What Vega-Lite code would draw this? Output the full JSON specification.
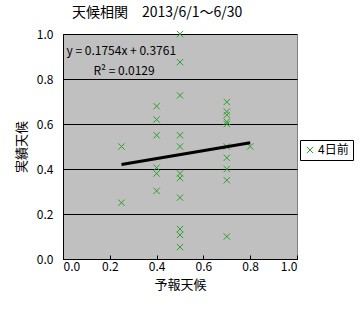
{
  "$schema": "https://vega.github.io/schema/vega-lite/v6.json",
  "width": 234,
  "height": 225,
  "autosize": {"type": "none"},
  "padding": {"left": 63, "top": 34, "right": 66, "bottom": 51},
  "background": "white",
  "title": {
    "text": "天候相関　2013/6/1〜6/30",
    "anchor": "start",
    "frame": "group",
    "dx": 9,
    "offset": 8,
    "font": "Noto Sans CJK JP",
    "fontSize": 14,
    "fontWeight": "normal",
    "color": "black"
  },
  "config": {
    "view": {"fill": "#c0c0c0", "stroke": "#808080", "strokeWidth": 1},
    "font": "Noto Sans CJK JP"
  },
  "datasets": {
    "pts": [
      {"x": 0.5, "y": 1.0}, {"x": 0.5, "y": 0.875}, {"x": 0.5, "y": 0.727}, {"x": 0.5, "y": 0.55},
      {"x": 0.5, "y": 0.5}, {"x": 0.5, "y": 0.38}, {"x": 0.5, "y": 0.36}, {"x": 0.5, "y": 0.273},
      {"x": 0.5, "y": 0.133}, {"x": 0.5, "y": 0.107}, {"x": 0.5, "y": 0.053},
      {"x": 0.4, "y": 0.679}, {"x": 0.4, "y": 0.62}, {"x": 0.4, "y": 0.55}, {"x": 0.4, "y": 0.406},
      {"x": 0.4, "y": 0.38}, {"x": 0.4, "y": 0.303},
      {"x": 0.7, "y": 0.698}, {"x": 0.7, "y": 0.655}, {"x": 0.7, "y": 0.64}, {"x": 0.7, "y": 0.61},
      {"x": 0.7, "y": 0.6}, {"x": 0.7, "y": 0.5}, {"x": 0.7, "y": 0.45}, {"x": 0.7, "y": 0.4},
      {"x": 0.7, "y": 0.35}, {"x": 0.7, "y": 0.1},
      {"x": 0.25, "y": 0.5}, {"x": 0.25, "y": 0.25},
      {"x": 0.8, "y": 0.5}
    ],
    "trend": [{"x": 0.25, "y": 0.4200}, {"x": 0.8, "y": 0.5164}],
    "labels": [
      {"x": 0.015, "y": 0.925, "t": "y = 0.1754x + 0.3761"},
      {"x": 0.13, "y": 0.835, "t": "R² = 0.0129"}
    ]
  },
  "layer": [
    {
      "data": {"name": "pts"},
      "mark": {"type": "point", "shape": "M-1,-1L1,1M1,-1L-1,1", "filled": false, "strokeWidth": 1, "size": 40, "clip": false, "opacity": 1},
      "encoding": {
        "x": {
          "field": "x", "type": "quantitative",
          "scale": {"domain": [0, 1], "nice": false, "zero": false},
          "axis": {
            "title": "予報天候", "titleFont": "Noto Sans CJK JP", "titleFontSize": 13, "titleFontWeight": "normal", "titleColor": "black", "titlePadding": 6,
            "values": [0, 0.2, 0.4, 0.6, 0.8, 1.0], "format": ".1f",
            "labelFont": "Noto Sans CJK JP", "labelFontSize": 12, "labelColor": "black", "labelPadding": 6,
            "domainColor": "black", "tickColor": "black", "tickSize": -4, "grid": false
          }
        },
        "y": {
          "field": "y", "type": "quantitative",
          "scale": {"domain": [0, 1], "nice": false, "zero": false},
          "axis": {
            "title": "実績天候", "titleFont": "Noto Sans CJK JP", "titleFontSize": 13, "titleFontWeight": "normal", "titleColor": "black", "titlePadding": 8,
            "values": [0, 0.2, 0.4, 0.6, 0.8, 1.0], "format": ".1f",
            "labelFont": "Noto Sans CJK JP", "labelFontSize": 12, "labelColor": "black", "labelPadding": 14,
            "domainColor": "black", "tickColor": "black", "tickSize": -4,
            "grid": true, "gridColor": "black", "gridOpacity": 1, "gridWidth": 1
          }
        },
        "color": {
          "datum": "4日前", "type": "nominal",
          "scale": {"range": ["#2e9e2e"]},
          "legend": {
            "title": null, "orient": "none", "legendX": 237, "legendY": 106,
            "strokeColor": "black", "padding": 4, "fillColor": "white",
            "labelFont": "Noto Sans CJK JP", "labelFontSize": 12, "labelColor": "black",
            "symbolType": "M-1,-1L1,1M1,-1L-1,1", "symbolStrokeWidth": 1, "symbolSize": 40, "symbolStrokeColor": "#2e9e2e",
            "labelOffset": 2
          }
        }
      }
    },
    {
      "data": {"name": "trend"},
      "mark": {"type": "line", "color": "black", "strokeWidth": 3},
      "encoding": {
        "x": {"field": "x", "type": "quantitative"},
        "y": {"field": "y", "type": "quantitative"}
      }
    },
    {
      "data": {"name": "labels"},
      "mark": {"type": "text", "align": "left", "baseline": "middle", "font": "Noto Sans CJK JP", "fontSize": 12, "color": "black"},
      "encoding": {
        "x": {"field": "x", "type": "quantitative"},
        "y": {"field": "y", "type": "quantitative"},
        "text": {"field": "t"}
      }
    }
  ]
}
